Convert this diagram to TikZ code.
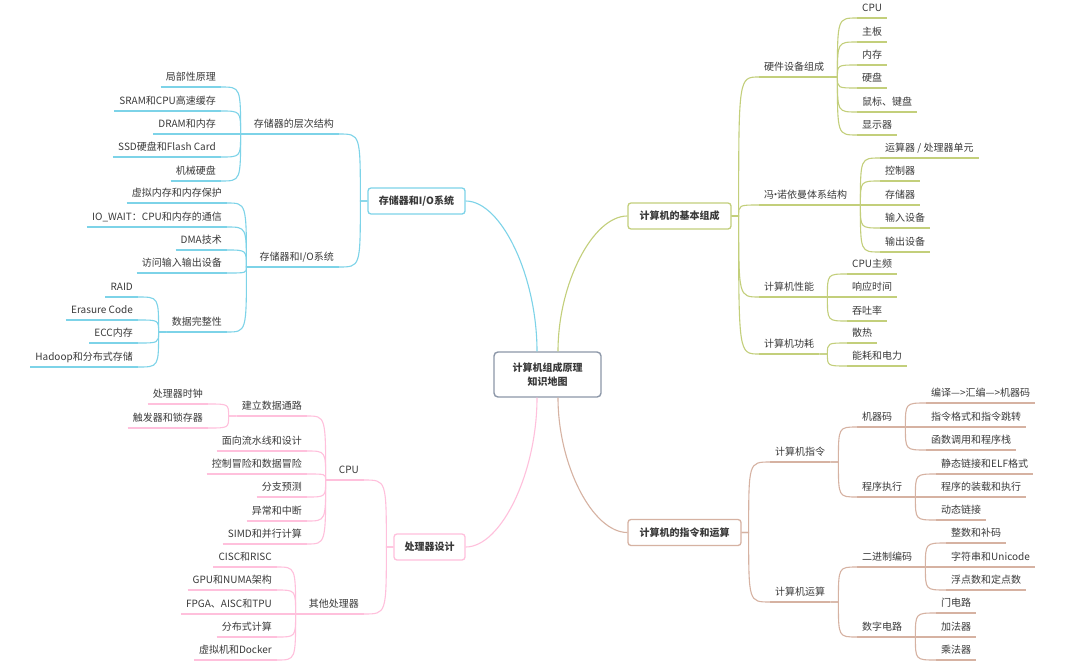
\documentclass[tikz,border=0pt]{standalone}
\usepackage{fontspec}
\setmainfont{Noto Sans CJK SC}
\usetikzlibrary{calc}
\definecolor{cblue}{HTML}{7DD3E8}
\definecolor{cgreen}{HTML}{C3CF7B}
\definecolor{cpink}{HTML}{FFC0DC}
\definecolor{cbrown}{HTML}{D6B2A2}
\definecolor{cgray}{HTML}{8C97A8}
\definecolor{tgray}{HTML}{3A3A3A}
\newcommand\cL[2]{\draw[c] let \p1=($(#1.south west)+(-8,0)$), \p2=(#2.south east) in (#1.south west) -- (\p1) .. controls (\x1,\y2) .. (\p2);}
\newcommand\cR[2]{\draw[c] let \p1=($(#1.south east)+(8,0)$), \p2=(#2.south west) in (#1.south east) -- (\p1) .. controls (\x1,\y2) .. (\p2);}
\newcommand\bL[2]{\draw[c] let \p1=($(#1.west)+(-7,0)$), \p2=(#2.south east) in (#1.west) -- (\p1) .. controls (\x1,\y2) .. (\p2);}
\newcommand\bR[2]{\draw[c] let \p1=($(#1.east)+(7,0)$), \p2=(#2.south west) in (#1.east) -- (\p1) .. controls (\x1,\y2) .. (\p2);}
\newcommand\cc[4]{\draw[c,#1] let \p1=($(C.#2)+(#3,0)$), \p2=(#4) in (\p1) .. controls (\x1,{(\y1+\y2)/2}) and ({(\x1+\x2)/2},\y2) .. (\p2);}
\begin{document}
\begin{tikzpicture}[x=1pt,y=-1pt,
  font=\fontsize{10}{12}\selectfont,
  c/.style={line width=1.1pt},
  every edge/.append style={line width=1.1pt},
  lf/.style={inner xsep=5pt, inner ysep=4pt, text height=8pt, text depth=2pt, text=tgray,
    append after command={(\tikzlastnode.south west) edge (\tikzlastnode.south east)}},
  L/.style={lf, anchor=south east},
  R/.style={lf, anchor=south west},
  box/.style={draw, rounded corners=3pt, line width=1.3pt, fill=white, text=tgray,
    font=\fontsize{10}{12}\selectfont\bfseries, minimum height=26pt, inner xsep=0pt}]
\fill[white] (0,0) rectangle (1083,669);
\useasboundingbox (0,0) rectangle (1083,669);

% centre
\node[draw=cgray, rounded corners=4pt, line width=1.4pt, fill=white, text=tgray, align=center,
  font=\fontsize{10}{14}\selectfont\bfseries, minimum width=107pt, minimum height=45pt, inner sep=0pt]
  (C) at (547.5,374.5) {计算机组成原理\\知识地图};

% ===== blue: memory and I/O =====
\begin{scope}[color=cblue]
\node[box, minimum width=97pt] (BM) at (416.5,201) {存储器和I/O系统};
\cc{cblue}{north}{-10.5}{BM.east}
\node[L] (A1) at (339,134) {存储器的层次结构};
\node[L] (A2) at (339,267) {存储器和I/O系统};
\bL{BM}{A1} \bL{BM}{A2}
\node[L] (a11) at (221,87) {局部性原理};
\node[L] (a12) at (221,111) {SRAM和CPU高速缓存};
\node[L] (a13) at (221,134) {DRAM和内存};
\node[L] (a14) at (221,157) {SSD硬盘和Flash Card};
\node[L] (a15) at (221,181) {机械硬盘};
\cL{A1}{a11} \cL{A1}{a12} \cL{A1}{a13} \cL{A1}{a14} \cL{A1}{a15}
\node[L] (a21) at (227,203) {虚拟内存和内存保护};
\node[L] (a22) at (227,227) {IO\_WAIT：CPU和内存的通信};
\node[L] (a23) at (227,250) {DMA技术};
\node[L] (a24) at (227,273) {访问输入输出设备};
\node[L] (a25) at (227,332) {数据完整性};
\cL{A2}{a21} \cL{A2}{a22} \cL{A2}{a23} \cL{A2}{a24} \cL{A2}{a25}
\node[L] (a251) at (138,297) {RAID};
\node[L] (a252) at (138,320) {Erasure Code};
\node[L] (a253) at (138,343) {ECC内存};
\node[L] (a254) at (138,367) {Hadoop和分布式存储};
\cL{a25}{a251} \cL{a25}{a252} \cL{a25}{a253} \cL{a25}{a254}
\end{scope}

% ===== green: basic composition =====
\begin{scope}[color=cgreen]
\node[box, minimum width=103pt] (BB) at (679.5,216) {计算机的基本组成};
\cc{cgreen}{north}{10.5}{BB.west}
\node[R] (B1) at (759,77) {硬件设备组成};
\node[R] (B2) at (759,205) {冯\kern-3.5pt·\kern-3.5pt诺依曼体系结构};
\node[R] (B3) at (759,297) {计算机性能};
\node[R] (B4) at (759,354) {计算机功耗};
\bR{BB}{B1} \bR{BB}{B2} \bR{BB}{B3} \bR{BB}{B4}
\node[R] (b11) at (857,18) {CPU};
\node[R] (b12) at (857,42) {主板};
\node[R] (b13) at (857,65) {内存};
\node[R] (b14) at (857,88) {硬盘};
\node[R] (b15) at (857,112) {鼠标、键盘};
\node[R] (b16) at (857,135) {显示器};
\cR{B1}{b11} \cR{B1}{b12} \cR{B1}{b13} \cR{B1}{b14} \cR{B1}{b15} \cR{B1}{b16}
\node[R] (b21) at (880,158) {运算器 / 处理器单元};
\node[R] (b22) at (880,181) {控制器};
\node[R] (b23) at (880,205) {存储器};
\node[R] (b24) at (880,228) {输入设备};
\node[R] (b25) at (880,252) {输出设备};
\cR{B2}{b21} \cR{B2}{b22} \cR{B2}{b23} \cR{B2}{b24} \cR{B2}{b25}
\node[R] (b31) at (847,274) {CPU主频};
\node[R] (b32) at (847,297) {响应时间};
\node[R] (b33) at (847,321) {吞吐率};
\cR{B3}{b31} \cR{B3}{b32} \cR{B3}{b33}
\node[R] (b41) at (847,343) {散热};
\node[R] (b42) at (847,366) {能耗和电力};
\cR{B4}{b41} \cR{B4}{b42}
\end{scope}

% ===== pink: processor design =====
\begin{scope}[color=cpink]
\node[box, minimum width=71pt] (BP) at (429.5,547) {处理器设计};
\cc{cpink}{south}{-10.5}{BP.east}
\node[L] (D1) at (364,480) {CPU};
\node[L] (D2) at (364,614) {其他处理器};
\bL{BP}{D1} \bL{BP}{D2}
\node[L] (d1) at (307,416) {建立数据通路};
\node[L] (d2) at (307,451) {面向流水线和设计};
\node[L] (d3) at (307,474) {控制冒险和数据冒险};
\node[L] (d4) at (307,497) {分支预测};
\node[L] (d5) at (307,521) {异常和中断};
\node[L] (d6) at (307,544) {SIMD和并行计算};
\cL{D1}{d1} \cL{D1}{d2} \cL{D1}{d3} \cL{D1}{d4} \cL{D1}{d5} \cL{D1}{d6}
\node[L] (d11) at (208,404) {处理器时钟};
\node[L] (d12) at (208,428) {触发器和锁存器};
\cL{d1}{d11} \cL{d1}{d12}
\node[L] (e1) at (277,567) {CISC和RISC};
\node[L] (e2) at (277,590) {GPU和NUMA架构};
\node[L] (e3) at (277,614) {FPGA、AISC和TPU};
\node[L] (e4) at (277,637) {分布式计算};
\node[L] (e5) at (277,660) {虚拟机和Docker};
\cL{D2}{e1} \cL{D2}{e2} \cL{D2}{e3} \cL{D2}{e4} \cL{D2}{e5}
\end{scope}

% ===== brown: instructions and arithmetic =====
\begin{scope}[color=cbrown]
\node[box, minimum width=113pt] (BI) at (684.5,532.5) {计算机的指令和运算};
\cc{cbrown}{south}{10.5}{BI.west}
\node[R] (C1) at (770,462) {计算机指令};
\node[R] (C2) at (770,602) {计算机运算};
\bR{BI}{C1} \bR{BI}{C2}
\node[R] (C11) at (857,427) {机器码};
\node[R] (C12) at (857,497) {程序执行};
\cR{C1}{C11} \cR{C1}{C12}
\node[R] (C21) at (857,567) {二进制编码};
\node[R] (C22) at (857,637) {数字电路};
\cR{C2}{C21} \cR{C2}{C22}
\node[R] (c111) at (926,403) {编译—>汇编—>机器码};
\node[R] (c112) at (926,427) {指令格式和指令跳转};
\node[R] (c113) at (926,450) {函数调用和程序栈};
\cR{C11}{c111} \cR{C11}{c112} \cR{C11}{c113}
\node[R] (c121) at (936,474) {静态链接和ELF格式};
\node[R] (c122) at (936,497) {程序的装载和执行};
\node[R] (c123) at (936,520) {动态链接};
\cR{C12}{c121} \cR{C12}{c122} \cR{C12}{c123}
\node[R] (c211) at (946,543) {整数和补码};
\node[R] (c212) at (946,567) {字符串和Unicode};
\node[R] (c213) at (946,590) {浮点数和定点数};
\cR{C21}{c211} \cR{C21}{c212} \cR{C21}{c213}
\node[R] (c221) at (936,613) {门电路};
\node[R] (c222) at (936,637) {加法器};
\node[R] (c223) at (936,660) {乘法器};
\cR{C22}{c221} \cR{C22}{c222} \cR{C22}{c223}
\end{scope}
\end{tikzpicture}
\end{document}
